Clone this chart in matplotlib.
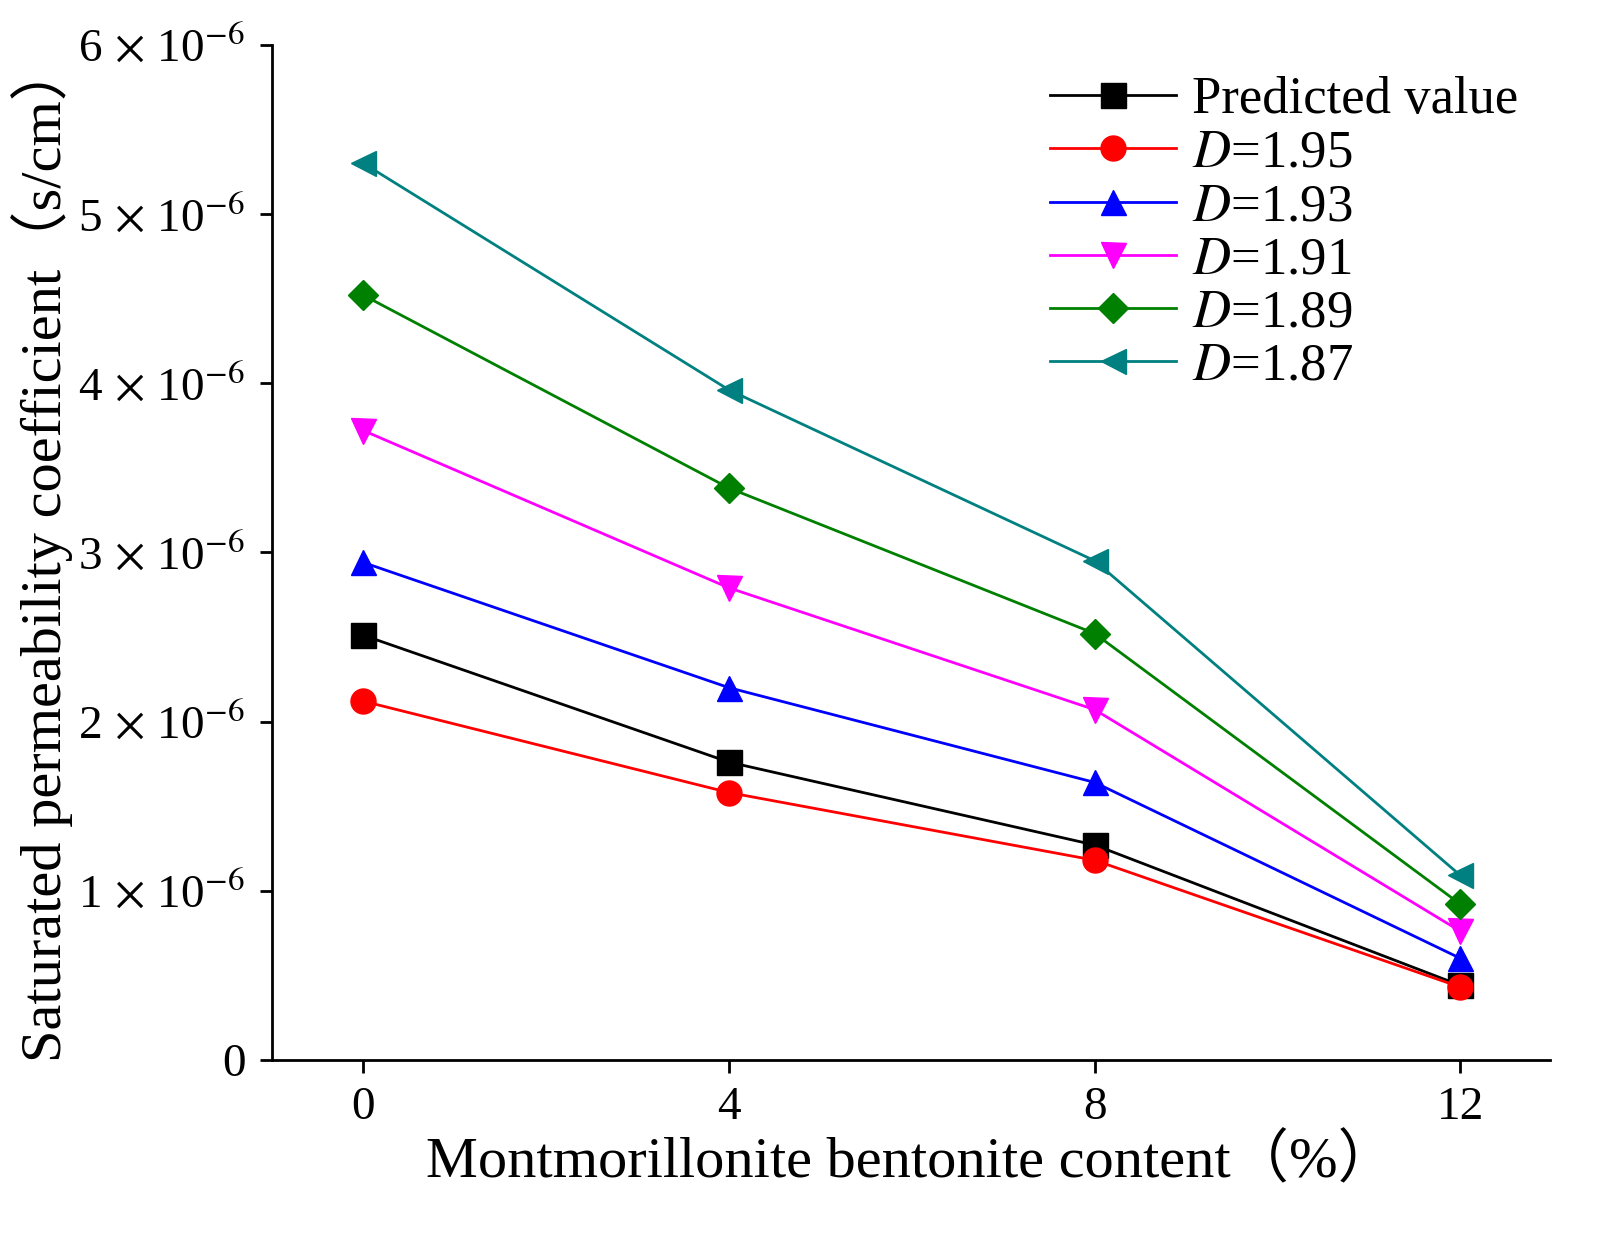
import matplotlib
matplotlib.use("Agg")
import matplotlib.pyplot as plt

x = [0, 4, 8, 12]
predicted = [2.51, 1.76, 1.27, 0.44]
d195 = [2.12, 1.58, 1.18, 0.43]
d193 = [2.94, 2.20, 1.64, 0.60]
d191 = [3.72, 2.79, 2.07, 0.76]
d189 = [4.52, 3.38, 2.52, 0.92]
d187 = [5.30, 3.96, 2.95, 1.09]
ytick_vals = [0, 1, 2, 3, 4, 5, 6]

plt.rcParams['font.family'] = ['Liberation Serif', 'DejaVu Serif']
plt.rcParams['mathtext.fontset'] = 'stix'

fig = plt.figure(figsize=(16.18, 12.44), dpi=100)
ax = fig.add_axes([0.168, 0.148, 0.79, 0.816])

series = [
    ("Predicted value", predicted, 'black', 's'),
    ("$\\mathit{D}$=1.95", d195, 'red', 'o'),
    ("$\\mathit{D}$=1.93", d193, 'blue', '^'),
    ("$\\mathit{D}$=1.91", d191, 'magenta', 'v'),
    ("$\\mathit{D}$=1.89", d189, 'green', 'D'),
    ("$\\mathit{D}$=1.87", d187, 'teal', '<'),
]
for lab, ys, c, m in series:
    ms = 18 if m != 'D' else 15
    ax.plot(x, [v * 1e-6 for v in ys], color=c, marker=m, markersize=ms, lw=2.0, label=lab)

ax.set_xlim(-1.0, 12.98)
ax.set_ylim(0, 6e-6)
ax.set_xticks(x)
ax.set_xticklabels([str(v) for v in x], fontsize=34)
ax.set_yticks([v * 1e-6 for v in ytick_vals])
ax.set_yticklabels(['0'] + [f"{v}$\\,\\times\\,$10$^{{-6}}$" for v in ytick_vals[1:]], fontsize=34)
ax.spines['top'].set_visible(False)
ax.spines['right'].set_visible(False)
for s in ['left', 'bottom']:
    ax.spines[s].set_linewidth(2.0)
ax.tick_params(direction='out', length=9, width=2.0, pad=10)
ax.set_xlabel("Montmorillonite bentonite content\uff08%\uff09", fontsize=42,
              family=['Liberation Serif', 'Noto Sans CJK SC'])
ax.set_ylabel("Saturated permeability coefficient\uff08s/cm\uff09", fontsize=42,
              family=['Liberation Serif', 'Noto Sans CJK SC'])
ax.legend(loc='upper right', fontsize=38, frameon=False, handlelength=2.4,
          handletextpad=0.3, borderaxespad=0.2, labelspacing=0.1,
          bbox_to_anchor=(1.0, 1.0))
fig.savefig("out.png", dpi=100)
